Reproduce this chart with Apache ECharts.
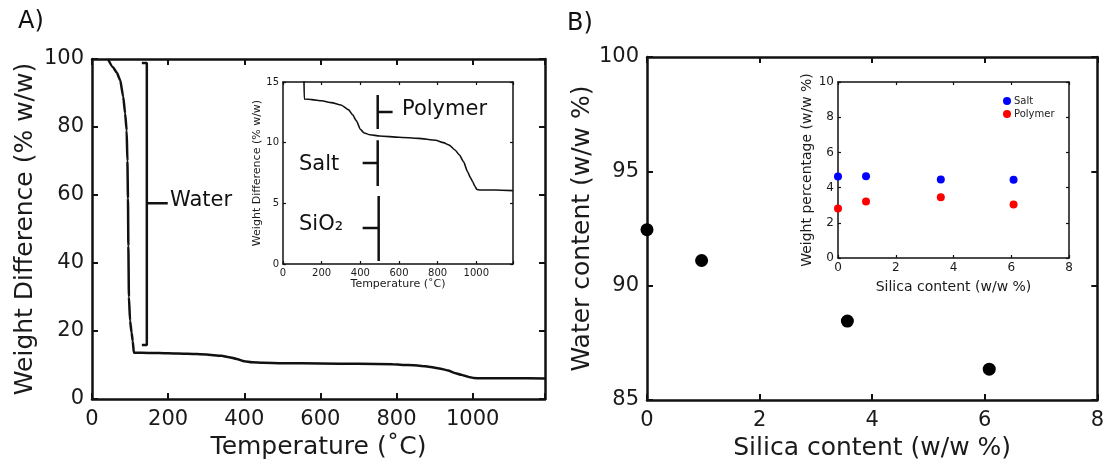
<!DOCTYPE html>
<html>
<head>
<meta charset="UTF-8">
<title>TGA and water content</title>
<script src="https://cdn.jsdelivr.net/npm/echarts@6/dist/echarts.min.js"></script>
<style>
  html, body { margin: 0; padding: 0; background: #fff; }
  #chart { width: 1107px; height: 467px; }
</style>
</head>
<body>
<div id="chart"></div>
<script type="text/javascript">
// A) TGA curve, temperature (C) vs weight (% w/w)
var tempC = [42, 55, 65, 74, 82, 87, 91, 93, 94.5, 95.5, 97, 100, 104, 107, 110, 150, 200, 250, 300, 340, 360, 380, 400, 420, 450, 500, 600, 700, 790, 830, 860, 890, 912, 935, 955, 970, 981, 993, 1003, 1020, 1100, 1190];
var weightPct = [100, 97.6, 96, 93.8, 88.9, 84, 79, 70, 59, 45, 30, 23, 19.5, 17, 13.6, 13.55, 13.45, 13.3, 13.1, 12.7, 12.3, 11.8, 11.1, 10.8, 10.65, 10.55, 10.45, 10.35, 10.2, 10.0, 9.8, 9.4, 9.0, 8.4, 7.6, 7.1, 6.8, 6.4, 6.15, 6.1, 6.1, 6.05];

// bracket annotations (data coords of their own plot)
var waterBracket = [[131, 98.8], [144, 98.8], [144, 15.9], [131, 15.9]];
var waterTick = [[144, 57.6], [199, 57.6]];
var polymerBracket = [[490, 13.93], [490, 11.13]];
var polymerTick = [[490, 12.53], [567, 12.53]];
var saltBracket = [[490, 10.2], [490, 6.43]];
var saltTick = [[412, 8.32], [490, 8.32]];
var sio2Bracket = [[495, 5.6], [495, 0.25]];
var sio2Tick = [[412, 2.97], [495, 2.97]];

// B) water content vs silica content
var silica = [0, 0.97, 3.56, 6.08];
var waterContent = [92.45, 91.1, 88.45, 86.35];
// B inset
var saltPct = [4.63, 4.65, 4.46, 4.44];
var polymerPct = [2.81, 3.21, 3.45, 3.04];

function pairs(xs, ys) {
  var out = [];
  for (var i = 0; i < xs.length; i++) out.push([xs[i], ys[i]]);
  return out;
}

var FONT = 'DejaVu Sans';

// one bottom + one top x axis, one left + one right y axis per grid (box frame)
function boxAxes(g, xr, yr, big, xName, yName, xGap, yGap) {
  var lw = big ? 2.5 : 1.5;
  var line = { show: true, onZero: false, lineStyle: { color: '#111', width: lw } };
  var tick = { show: true, inside: true, length: big ? 6 : 3, lineStyle: { color: '#111', width: big ? 2 : 1.2 } };
  var lbl = { color: '#1a1a1a', fontFamily: FONT, fontSize: big ? 21 : xr.fs, margin: big ? 10 : 4 };
  var nameStyle = { color: '#1a1a1a', fontFamily: FONT, fontSize: big ? 25 : xr.ns };
  var fmtX = function (v) { return v % xr.interval === 0 ? String(v) : ''; };
  var xs = [
    { type: 'value', gridIndex: g, position: 'bottom', min: xr.min, max: xr.max, interval: xr.interval,
      axisLine: line, axisTick: tick, splitLine: { show: false },
      axisLabel: Object.assign({ formatter: fmtX }, lbl),
      name: xName, nameLocation: 'middle', nameGap: xGap, nameTextStyle: nameStyle },
    { type: 'value', gridIndex: g, position: 'top', min: xr.min, max: xr.max, interval: xr.interval,
      axisLine: line, axisTick: tick, splitLine: { show: false }, axisLabel: { show: false } }
  ];
  var ys = [
    { type: 'value', gridIndex: g, position: 'left', min: yr.min, max: yr.max, interval: yr.interval,
      axisLine: line, axisTick: tick, splitLine: { show: false },
      axisLabel: Object.assign({}, lbl, { margin: big ? 8 : 4 }),
      name: yName, nameLocation: 'middle', nameGap: yGap, nameTextStyle: nameStyle },
    { type: 'value', gridIndex: g, position: 'right', min: yr.min, max: yr.max, interval: yr.interval,
      axisLine: line, axisTick: tick, splitLine: { show: false }, axisLabel: { show: false } }
  ];
  return { x: xs, y: ys };
}

var a0 = boxAxes(0, { min: 0, max: 1190, interval: 200 }, { min: 0, max: 100, interval: 20 }, true,
  'Temperature (\u02DAC)', 'Weight Difference (% w/w)', 36, 54);
var a1 = boxAxes(1, { min: 0, max: 1190, interval: 200, fs: 10, ns: 11 }, { min: 0, max: 15, interval: 5 }, false,
  'Temperature (\u02DAC)', 'Weight Difference (% w/w)', 15, 18);
var b0 = boxAxes(2, { min: 0, max: 8, interval: 2 }, { min: 85, max: 100, interval: 5 }, true,
  'Silica content (w/w %)', 'Water content (w/w %)', 36, 48);
var b1 = boxAxes(3, { min: 0, max: 8, interval: 2, fs: 12, ns: 14 }, { min: 0, max: 10, interval: 2 }, false,
  'Silica content (w/w %)', 'Weight percentage (w/w %)', 22, 22);

var xAxes = a0.x.concat(a1.x, b0.x, b1.x);
var yAxes = a0.y.concat(a1.y, b0.y, b1.y);

function bracket(data, xi, yi) {
  return { type: 'line', xAxisIndex: xi, yAxisIndex: yi, data: data, symbol: 'none', silent: true,
    lineStyle: { color: '#111', width: 2.5 }, z: 3 };
}

var myChart = echarts.init(document.getElementById('chart'));
var option = {
  animation: false,
  backgroundColor: '#fff',
  textStyle: { fontFamily: FONT },
  grid: [
    { left: 92, top: 59, width: 453, height: 340 },
    { left: 283, top: 82, width: 230, height: 182, show: true, backgroundColor: '#fff', borderWidth: 0 },
    { left: 647, top: 57, width: 452, height: 343 },
    { left: 838, top: 82, width: 231, height: 176, show: true, backgroundColor: '#fff', borderWidth: 0 }
  ],
  xAxis: xAxes,
  yAxis: yAxes,
  legend: {
    data: ['Salt', 'Polymer'],
    orient: 'vertical', left: 1003, top: 96,
    itemWidth: 8, itemHeight: 8, itemGap: 3, padding: 0,
    textStyle: { fontSize: 10, color: '#222', fontFamily: FONT, padding: [0, 0, 0, -2] }
  },
  series: [
    { type: 'line', xAxisIndex: 0, yAxisIndex: 0, data: pairs(tempC, weightPct), symbol: 'none',
      smooth: 0.2, smoothMonotone: 'x', lineStyle: { color: '#111', width: 2.5 } },
    { type: 'line', xAxisIndex: 2, yAxisIndex: 2, data: pairs(tempC, weightPct), symbol: 'none',
      smooth: 0.2, smoothMonotone: 'x', clip: true, lineStyle: { color: '#111', width: 1.6 } },
    bracket(waterBracket, 0, 0),
    bracket(waterTick, 0, 0),
    bracket(polymerBracket, 2, 2),
    bracket(polymerTick, 2, 2),
    bracket(saltBracket, 2, 2),
    bracket(saltTick, 2, 2),
    bracket(sio2Bracket, 2, 2),
    bracket(sio2Tick, 2, 2),
    { type: 'scatter', xAxisIndex: 4, yAxisIndex: 4, data: pairs(silica, waterContent),
      symbolSize: 13, itemStyle: { color: '#000', opacity: 1 } },
    { name: 'Salt', type: 'scatter', xAxisIndex: 6, yAxisIndex: 6, data: pairs(silica, saltPct),
      symbolSize: 8, itemStyle: { color: '#0000ff', opacity: 1 } },
    { name: 'Polymer', type: 'scatter', xAxisIndex: 6, yAxisIndex: 6, data: pairs(silica, polymerPct),
      symbolSize: 8, itemStyle: { color: '#ff0000', opacity: 1 } }
  ],
  graphic: [
    { type: 'text', left: 18, top: 10, style: { text: 'A)', font: '24px DejaVu Sans', fill: '#111' } },
    { type: 'text', left: 567, top: 12, style: { text: 'B)', font: '24px DejaVu Sans', fill: '#111' } },
    { type: 'text', left: 170, top: 190, style: { text: 'Water', font: '21px DejaVu Sans', fill: '#111' } },
    { type: 'text', left: 402, top: 99, style: { text: 'Polymer', font: '21px DejaVu Sans', fill: '#111' } },
    { type: 'text', left: 299, top: 154, style: { text: 'Salt', font: '21px DejaVu Sans', fill: '#111' } },
    { type: 'text', left: 299, top: 214, style: { text: 'SiO\u2082', font: '21px DejaVu Sans', fill: '#111' } }
  ]
};
myChart.setOption(option);
</script>
</body>
</html>
